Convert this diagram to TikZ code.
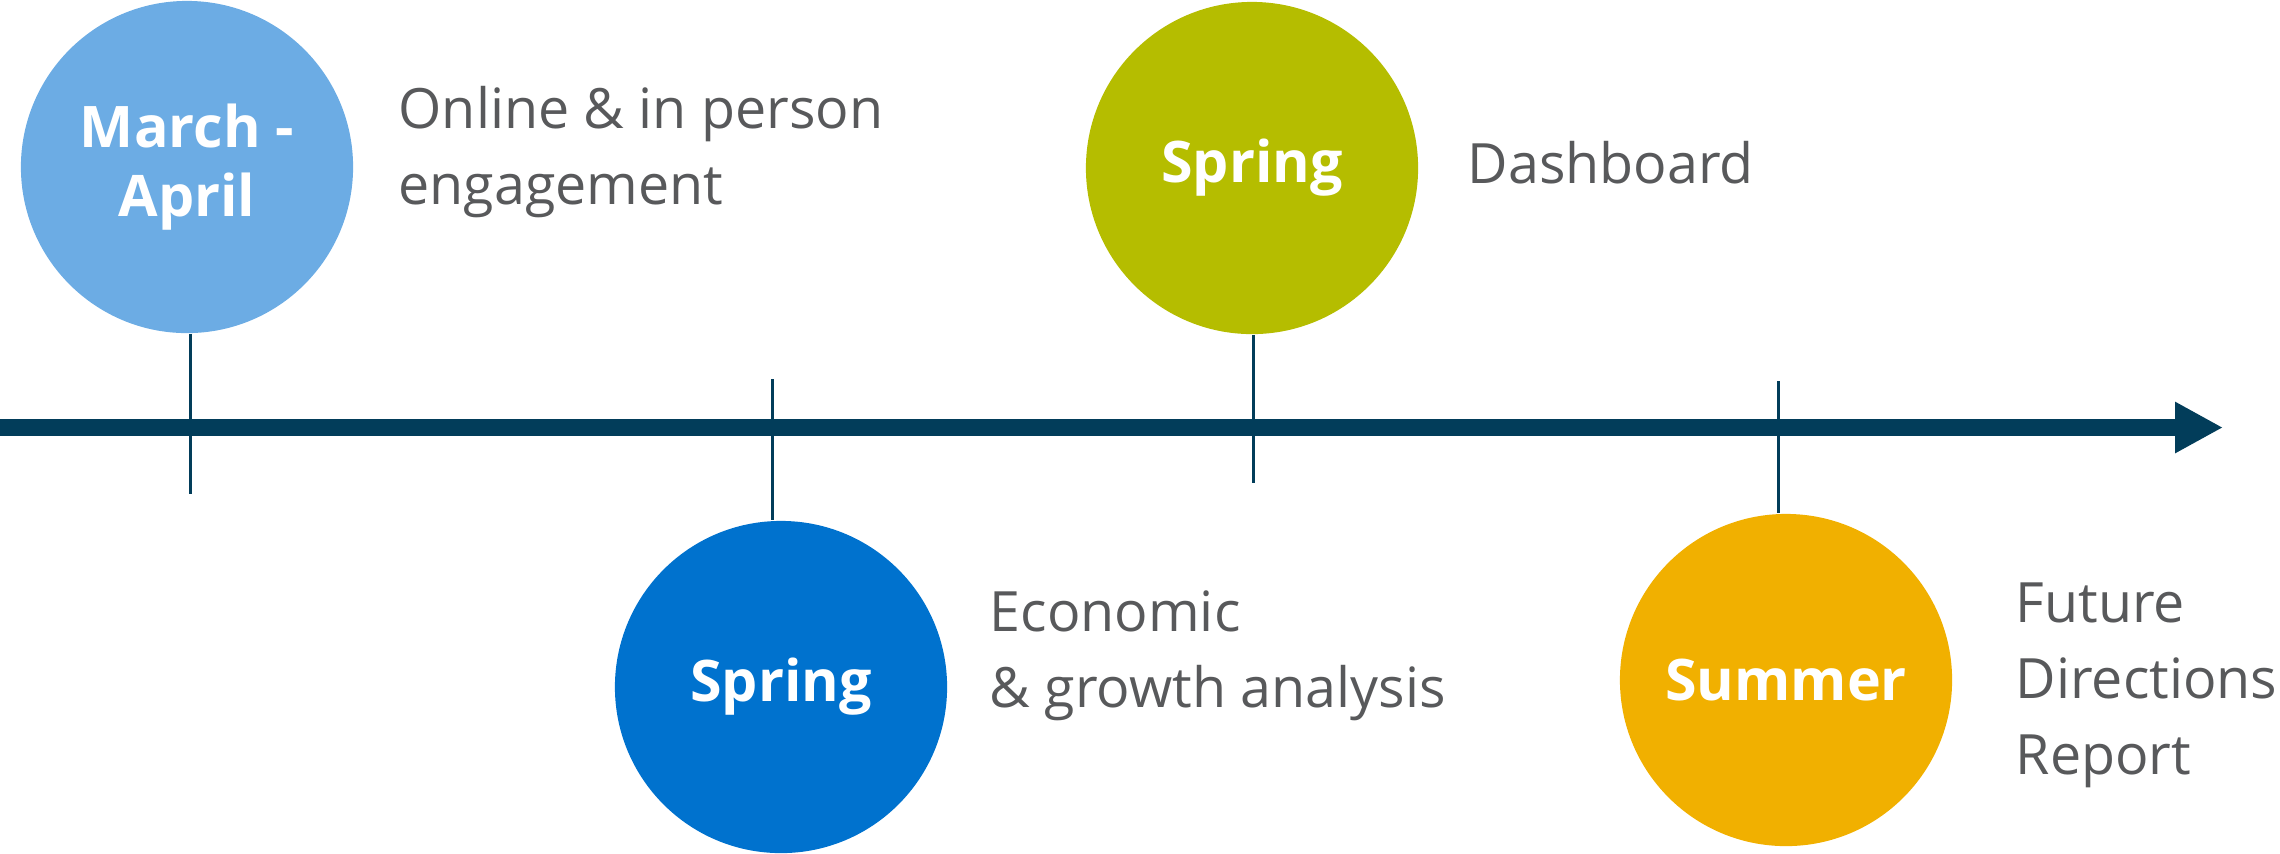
\documentclass[tikz,border=0pt]{standalone}
\usepackage{fontspec}
\setmainfont{Open Sans}
\usetikzlibrary{arrows.meta,positioning}
\definecolor{navy}{HTML}{023D5A}
\definecolor{txtgray}{HTML}{58595B}
\definecolor{skyblue}{HTML}{6CACE4}
\definecolor{midblue}{HTML}{0072CE}
\definecolor{lime}{HTML}{B5BD00}
\definecolor{amber}{HTML}{F1B000}

\begin{document}
\begin{tikzpicture}[x=0.01cm, y=-0.01cm,
    dot/.style={circle, fill=#1, minimum size=3.32cm, inner sep=0pt, text=white,
      align=center, font=\fontsize{16.3}{19.6}\selectfont\bfseries},
    note/.style={anchor=base west, inner sep=0pt, text=txtgray, align=left,
      font=\fontsize{15.8}{21.6}\selectfont},
    tick/.style={draw=navy, line width=0.03cm}]
    \useasboundingbox (0,0) rectangle (2280,853);

    \coordinate (s) at (0,427.5);
    \coordinate (t) at (2223,427.5);
    \draw[navy, line width=0.17cm, -{Triangle[length=0.48cm, width=0.48cm]}] (s) -- (t);

    \node[dot=skyblue] (a) at (187,167) {March -\\April};
    \node[note] (b) at (398,204) {Online \& in person\\engagement};
    \node[dot=midblue] (c) at (781,687) {Spring};
    \node[note] (d) at (989,707) {Economic\\\& growth analysis};
    \node[dot=lime] (e) at (1252,168) {Spring};
    \node[note] (f) at (1467,183) {Dashboard};
    \node[dot=amber] (g) at (1786,680) {Summer};
    \node[note] (h) at (2015,774) {Future\\Directions\\Report};

    \coordinate (k) at (190,494);
    \coordinate (l) at (772,379);
    \coordinate (m) at (1253,483);
    \coordinate (n) at (1778,381);

    \draw[tick] (k |- a.south) -- (k);
    \draw[tick] (l) -- (l |- c.north);
    \draw[tick] (m |- e.south) -- (m);
    \draw[tick] (n) -- (n |- g.north);
  \end{tikzpicture}
\end{document}
